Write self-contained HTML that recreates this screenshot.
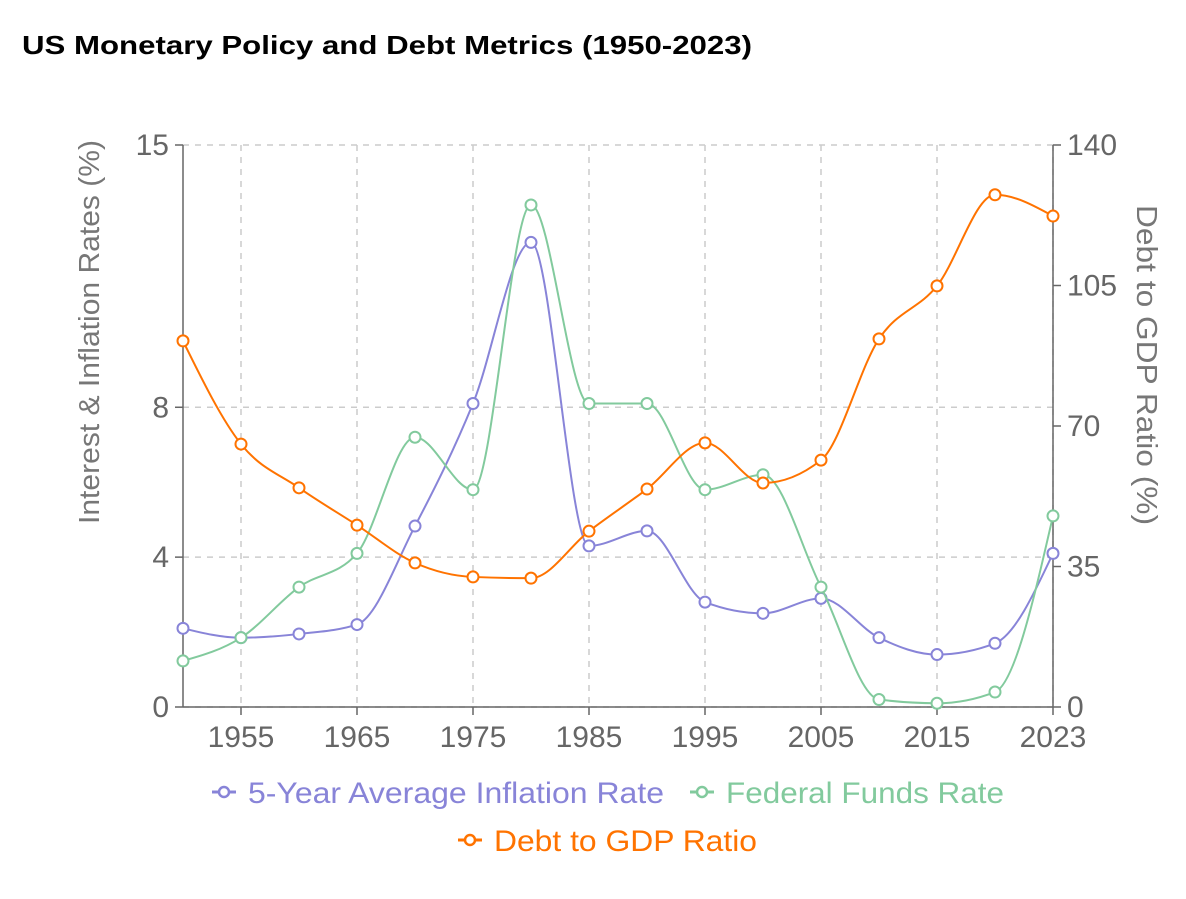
<!DOCTYPE html>
<html><head><meta charset="utf-8"><style>
body{margin:0;background:#fff;font-family:"Liberation Sans",Arial,sans-serif;}
</style></head><body>
<svg id="chart" width="1186" height="894" xmlns="http://www.w3.org/2000/svg" font-family="Liberation Sans, Arial, sans-serif">
<text x="22" y="54" font-size="26" font-weight="bold" fill="#000" textLength="730" lengthAdjust="spacingAndGlyphs">US Monetary Policy and Debt Metrics (1950-2023)</text>
<g id="grid"></g><g id="axes"></g><g id="series"></g><g id="legend"></g>
</svg>
<script>
const years=["1950","1955","1960","1965","1970","1975","1980","1985","1990","1995","2000","2005","2010","2015","2020","2023"];
const inflation=[2.1,1.85,1.95,2.2,4.83,8.1,12.4,4.3,4.7,2.8,2.5,2.9,1.85,1.4,1.7,4.1];
const fedFunds=[1.23,1.85,3.2,4.1,7.2,5.8,13.4,8.1,8.1,5.8,6.2,3.2,0.2,0.1,0.4,5.1];
const debtGdp=[91.2,65.5,54.6,45.3,35.9,32.4,32.1,43.8,54.3,65.8,55.8,61.5,91.7,104.9,127.6,122.3];
const leftTicks=[0,4,8,15];
const rightTicks=[0,35,70,105,140];
const xLabels=["1955","1965","1975","1985","1995","2005","2015","2023"];

const NS="http://www.w3.org/2000/svg";
const X0=183,X1=1053,Y0=707,Y1=145;
const xs=i=>X0+(X1-X0)*i/(years.length-1);
const yl=v=>Y0-(Y0-Y1)*v/15;
const yr=v=>Y0-(Y0-Y1)*v/140;
function mk(tag,attrs,parent){const e=document.createElementNS(NS,tag);for(const k in attrs)e.setAttribute(k,attrs[k]);parent.appendChild(e);return e;}
const grid=document.getElementById('grid'),axes=document.getElementById('axes'),series=document.getElementById('series'),legend=document.getElementById('legend');

leftTicks.forEach(t=>{
 const l=mk('line',{x1:X0,x2:X1,y1:yl(t),y2:yl(t),stroke:'#ccc','stroke-dasharray':'6 6','stroke-width':1.5},grid);
 
 
 mk('line',{x1:X0-8,x2:X0,y1:yl(t),y2:yl(t),stroke:'#666','stroke-width':1.5},axes);
 const tx=mk('text',{x:X0-14,y:yl(t)+10,'font-size':30,fill:'#666','text-anchor':'end'},axes);tx.textContent=t;
 
 
});
rightTicks.forEach(t=>{
 mk('line',{x1:X1,x2:X1+8,y1:yr(t),y2:yr(t),stroke:'#666','stroke-width':1.5},axes);
 const tx=mk('text',{x:X1+14,y:yr(t)+10,'font-size':30,fill:'#666'},axes);tx.textContent=t;
 
 
});
xLabels.forEach(lb=>{
 const i=years.indexOf(lb),x=xs(i);
 const l=mk('line',{x1:x,x2:x,y1:Y1,y2:Y0,stroke:'#ccc','stroke-dasharray':'6 6','stroke-width':1.5},grid);
 
 
 mk('line',{x1:x,x2:x,y1:Y0,y2:Y0+8,stroke:'#666','stroke-width':1.5},axes);
 const tx=mk('text',{x:x,y:Y0+40,'font-size':30,fill:'#666','text-anchor':'middle'},axes);tx.textContent=lb;
 
 
});
mk('line',{x1:X0,x2:X0,y1:Y1,y2:Y0,stroke:'#666','stroke-width':1.5},axes);
mk('line',{x1:X1,x2:X1,y1:Y1,y2:Y0,stroke:'#666','stroke-width':1.5},axes);
mk('line',{x1:X0,x2:X1,y1:Y0,y2:Y0,stroke:'#666','stroke-width':1.5},axes);
let t=mk('text',{transform:'translate(99,332) rotate(-90)','font-size':29,fill:'#777','text-anchor':'middle',textLength:384,lengthAdjust:'spacingAndGlyphs'},axes);t.textContent='Interest & Inflation Rates (%)';


t=mk('text',{transform:'translate(1137,365) rotate(90)','font-size':29,fill:'#777','text-anchor':'middle',textLength:320,lengthAdjust:'spacingAndGlyphs'},axes);t.textContent='Debt to GDP Ratio (%)';



function monotone(pts){
 const n=pts.length;if(n<2)return '';
 const dx=[],dy=[],m=[];
 for(let i=0;i<n-1;i++){dx.push(pts[i+1][0]-pts[i][0]);dy.push(pts[i+1][1]-pts[i][1]);m.push(dy[i]/dx[i]);}
 const tg=[m[0]];
 for(let i=1;i<n-1;i++){
  if(m[i-1]*m[i]<=0)tg.push(0);
  else{const h0=dx[i-1],h1=dx[i];const p=(m[i-1]*h1+m[i]*h0)/(h0+h1);
   tg.push((Math.sign(m[i-1])+Math.sign(m[i]))*Math.min(Math.abs(m[i-1]),Math.abs(m[i]),0.5*Math.abs(p))||0);}
 }
 tg.push(m[n-2]);
 tg[0]=(3*m[0]-tg[1])/2; tg[n-1]=(3*m[n-2]-tg[n-2])/2;
 let d=`M${pts[0][0]},${pts[0][1]}`;
 for(let i=0;i<n-1;i++){const h=dx[i]/3;
  d+=`C${pts[i][0]+h},${pts[i][1]+h*tg[i]} ${pts[i+1][0]-h},${pts[i+1][1]-h*tg[i+1]} ${pts[i+1][0]},${pts[i+1][1]}`;}
 return d;
}
function draw(vals,ys,color,name){
 const pts=vals.map((v,i)=>[xs(i),ys(v)]);
 const p=mk('path',{d:monotone(pts),fill:'none',stroke:color,'stroke-width':2},series);
 
 
 pts.forEach(q=>{const c=mk('circle',{cx:q[0],cy:q[1],r:5.5,fill:'#fff',stroke:color,'stroke-width':2},series);
  
  });
}
draw(inflation,yl,'#8884d8','inflation');
draw(fedFunds,yl,'#82ca9d','fed-funds');
draw(debtGdp,yr,'#ff7300','debt-gdp');

function legendItem(x,y,color,label,name,tl){
 const g=mk('g',{},legend);
 
 
 mk('line',{x1:x,x2:x+24,y1:y,y2:y,stroke:color,'stroke-width':3},g);
 mk('circle',{cx:x+12,cy:y,r:5,fill:'#fff',stroke:color,'stroke-width':2.5},g);
 const tx=mk('text',{x:x+36,y:y+11,'font-size':30,fill:color,textLength:tl,lengthAdjust:'spacingAndGlyphs'},g);tx.textContent=label;
}
legendItem(212,792,'#8884d8','5-Year Average Inflation Rate','legend-inflation',416);
legendItem(690,792,'#82ca9d','Federal Funds Rate','legend-fed-funds',278);
legendItem(458,840,'#ff7300','Debt to GDP Ratio','legend-debt-gdp',263);
</script>
</body></html>
